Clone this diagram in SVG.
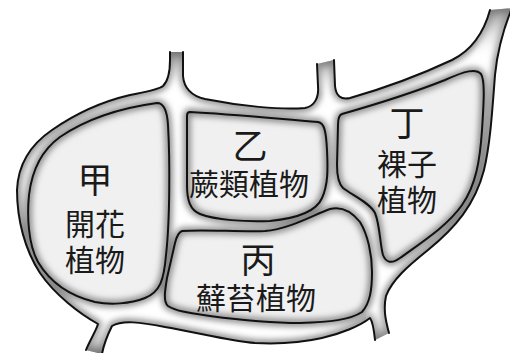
<svg xmlns="http://www.w3.org/2000/svg" xmlns:xlink="http://www.w3.org/1999/xlink" width="510" height="353" viewBox="0 0 510 353">
<style>
.lbl{font-family:"Noto Sans CJK TC","Noto Sans CJK SC",sans-serif;fill:#1a1a1a;text-anchor:middle}
.big{font-size:35px}
.sm{font-size:30px}
.edge{fill:none;stroke:#111;stroke-width:2;stroke-linejoin:round;stroke-linecap:round}
.shade{fill:none;stroke:#858585;stroke-width:7}
.isl{fill:#f0f0f0}
</style>
<defs>
<path id="outer" d="M170,52 L183,52 L183,76 C184,88 192,96 205,99 C240,106 280,110 305,108 C315,106 319,97 318,86 L317,64 L334,60 L335,86 C336,96 341,100 350,98 C385,88 420,75 452,60 C472,50 484,32 490,10 L512,8 C505,25 498,45 495,75 C492,115 490,145 484,170 C475,205 455,228 428,250 C408,266 392,280 386,296 C383,310 386,322 389,333 L375,340 C374,330 373,322 370,318 C360,326 340,334 322,338 C300,343 275,344 255,343 C230,341 200,333 165,327 C140,322 122,320 112,326 C108,334 104,343 102,354 L86,350 C90,340 96,331 98,324 C80,314 55,295 40,273 C25,250 17,220 17,190 C18,165 30,145 52,130 C75,114 100,102 130,95 C145,92 158,90 163,86 C169,80 170,70 170,60 Z"/>
<path id="p-jia" d="M157,103 C163,103 167,108 168,125 C170,160 170,220 166,255 C164,280 160,292 145,298 C130,304 110,305 95,302 C70,296 50,282 38,262 C28,244 27,215 29,195 C32,170 42,150 60,137 C85,120 120,108 157,103 Z"/>
<path id="p-yi" d="M190,112 C230,114 280,119 318,122 C324,123 326,130 327,150 C328,170 328,185 322,198 C317,210 300,218 270,221 C245,222 215,220 200,214 C190,210 187,200 187,185 L187,116 C187,113 188,112 190,112 Z"/>
<path id="p-bing" d="M182,231 C200,229 240,232 265,231 C290,229 315,214 330,209 C342,206 352,212 360,222 C368,235 372,255 372,272 C372,290 370,303 362,312 C350,320 330,322 300,323 C270,323 240,320 210,316 C190,313 175,311 168,306 C163,302 165,290 167,278 L175,243 C177,235 179,232 182,231 Z"/>
<path id="p-ding" d="M342,114 C370,106 410,94 445,80 C465,71 476,68 481,74 C485,80 484,100 482,130 C480,160 476,185 462,205 C448,225 425,240 400,258 C392,264 386,263 383,255 C380,245 380,225 375,213 C370,203 352,195 343,188 C338,183 337,175 337,165 L338,125 C338,118 339,115 342,114 Z"/>
<clipPath id="c-outer"><use xlink:href="#outer"/></clipPath>
<clipPath id="c-jia"><use xlink:href="#p-jia"/></clipPath>
<clipPath id="c-yi"><use xlink:href="#p-yi"/></clipPath>
<clipPath id="c-bing"><use xlink:href="#p-bing"/></clipPath>
<clipPath id="c-ding"><use xlink:href="#p-ding"/></clipPath>
<filter id="blur" filterUnits="userSpaceOnUse" x="0" y="0" width="510" height="353"><feGaussianBlur stdDeviation="3.2"/></filter>
<linearGradient id="g-up" x1="0" y1="0" x2="0" y2="1">
<stop offset="0" stop-color="#6a6a6a" stop-opacity="0.9"/>
<stop offset="1" stop-color="#ffffff" stop-opacity="0"/>
</linearGradient>
<linearGradient id="g-down" x1="0" y1="0" x2="0" y2="1">
<stop offset="0" stop-color="#ffffff" stop-opacity="0"/>
<stop offset="1" stop-color="#6a6a6a" stop-opacity="0.9"/>
</linearGradient>
</defs>
<rect width="510" height="353" fill="#fff"/>
<g id="connectors">
<g clip-path="url(#c-outer)">
<use xlink:href="#outer" fill="#fff"/>
<g filter="url(#blur)" class="shade">
<use xlink:href="#outer"/>
<use xlink:href="#p-jia"/>
<use xlink:href="#p-yi"/>
<use xlink:href="#p-bing"/>
<use xlink:href="#p-ding"/>
</g>
<rect x="165" y="50" width="22" height="38" fill="url(#g-up)"/>
<rect x="314" y="56" width="24" height="38" fill="url(#g-up)"/>
<rect x="478" y="4" width="36" height="56" fill="url(#g-up)"/>
<rect x="366" y="306" width="26" height="38" fill="url(#g-down)"/>
<rect x="82" y="322" width="34" height="33" fill="url(#g-down)"/>
</g>
<path class="edge" d="M183,52 L183,76 C184,88 192,96 205,99 C240,106 280,110 305,108 C315,106 319,97 318,86 L317,64"/>
<path class="edge" d="M334,60 L335,86 C336,96 341,100 350,98 C385,88 420,75 452,60 C472,50 484,32 490,10"/>
<path class="edge" d="M512,8 C505,25 498,45 495,75 C492,115 490,145 484,170 C475,205 455,228 428,250 C408,266 392,280 386,296 C383,310 386,322 389,333"/>
<path class="edge" d="M375,340 C374,330 373,322 370,318 C360,326 340,334 322,338 C300,343 275,344 255,343 C230,341 200,333 165,327 C140,322 122,320 112,326 C108,334 104,343 102,354"/>
<path class="edge" d="M86,350 C90,340 96,331 98,324 C80,314 55,295 40,273 C25,250 17,220 17,190 C18,165 30,145 52,130 C75,114 100,102 130,95 C145,92 158,90 163,86 C169,80 170,70 170,60 L170,52"/>
</g>
<g id="jia">
<g clip-path="url(#c-jia)"><use xlink:href="#p-jia" class="isl"/><use xlink:href="#p-jia" class="shade" filter="url(#blur)"/></g>
<use xlink:href="#p-jia" class="edge"/>
<text class="lbl big" x="95" y="193">甲</text>
<text class="lbl sm" x="95" y="235">開花</text>
<text class="lbl sm" x="95" y="271">植物</text>
</g>
<g id="yi">
<g clip-path="url(#c-yi)"><use xlink:href="#p-yi" class="isl"/><use xlink:href="#p-yi" class="shade" filter="url(#blur)"/></g>
<use xlink:href="#p-yi" class="edge"/>
<text class="lbl big" x="250" y="159">乙</text>
<text class="lbl sm" x="249" y="195">蕨類植物</text>
</g>
<g id="bing">
<g clip-path="url(#c-bing)"><use xlink:href="#p-bing" class="isl"/><use xlink:href="#p-bing" class="shade" filter="url(#blur)"/></g>
<use xlink:href="#p-bing" class="edge"/>
<text class="lbl big" x="258" y="273">丙</text>
<text class="lbl sm" x="256" y="309">蘚苔植物</text>
</g>
<g id="ding">
<g clip-path="url(#c-ding)"><use xlink:href="#p-ding" class="isl"/><use xlink:href="#p-ding" class="shade" filter="url(#blur)"/></g>
<use xlink:href="#p-ding" class="edge"/>
<text class="lbl big" x="407" y="136">丁</text>
<text class="lbl sm" x="407" y="175">裸子</text>
<text class="lbl sm" x="407" y="211">植物</text>
</g>
</svg>
